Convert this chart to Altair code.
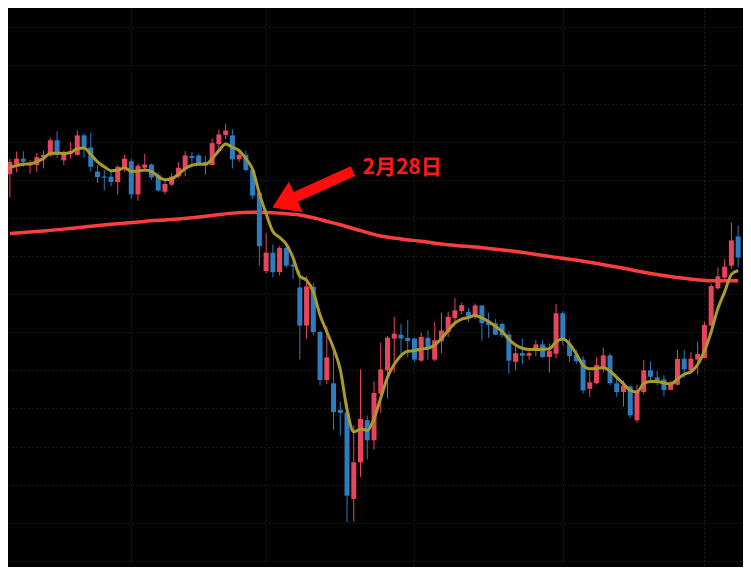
import altair as alt
import pandas as pd

# ---- candle data (price units) ----
opens = [449, 459.3, 465, 458, 458.3, 466.7, 468.3, 484, 463.3, 470,
         469, 489, 476.5, 451.7, 446.7, 446.5, 441, 455, 462.3, 428.3,
         455.7, 459, 448.3, 431, 438.3, 446.7, 455, 467.7, 468.3, 461.7,
         458.3, 480, 489.3, 489, 464.3, 469, 453.3, 430, 349.3, 368.3,
         348.3, 373.3, 356, 332.5, 293.3, 333.3, 286.7, 237.3, 234, 206.7,
         204, 115, 152.7, 196, 175.3, 223.3, 247.3, 280, 284, 280.7,
         280, 257.3, 280.7, 258.3, 277.3, 286.7, 301, 308.3, 307.3, 303.3,
         314, 297.3, 295.7, 295, 284, 256, 265, 262.3, 267.3, 274,
         261, 264.3, 306, 274, 263.3, 258.3, 228.3, 234, 250, 262.7,
         234, 225, 230.7, 196, 225, 247.3, 240, 238, 227.3, 232.5,
         259.3, 247.3, 258.3, 260, 293.3, 331.7, 342.7, 355, 385]
highs = [465, 472.3, 472.7, 463.3, 471, 473.3, 486.7, 493.3, 473.3, 482,
         494, 491, 491.7, 458.3, 453.3, 451.7, 458.3, 469, 465, 460,
         470, 460, 451, 445, 450, 461.7, 472.7, 471.7, 470, 467.7,
         485.7, 495, 501, 495, 475, 473.3, 455, 431, 388.3, 376.7,
         375, 378.3, 360, 350, 344, 336.7, 288, 292.7, 268.3, 215,
         214.5, 190.7, 248.3, 200.7, 236, 275.7, 282.7, 302.3, 295, 299.3,
         280.7, 286, 288.3, 297.3, 306.7, 307.3, 321.7, 316.7, 311.7, 316,
         314, 306.7, 300, 296.7, 287.3, 272.7, 280, 266.7, 278.3, 278.3,
         275, 315.5, 308.3, 280, 268.3, 261.7, 246, 260.7, 270.7, 265,
         238.3, 236.7, 231.7, 232.7, 258, 256.5, 246.7, 242.2, 236.7, 268.3,
         268.3, 266, 276.7, 297.3, 336, 353.3, 361.7, 399.3, 396]
lows = [425, 451, 456.7, 449.5, 451, 455, 466.7, 465.7, 458.3, 465,
        468.3, 466, 451.7, 440, 432.3, 436.7, 428.3, 451.7, 423.3, 421.7,
        451.7, 443.3, 431, 428.3, 436.7, 445, 446.7, 458.3, 458.3, 448.3,
        458.3, 475, 485, 455, 461.7, 451.7, 423.3, 355, 347, 343.3,
        345, 352.7, 341.7, 258.3, 280, 283.3, 231.7, 233.3, 186, 180,
        91, 91.7, 137.7, 155.7, 165.7, 203.3, 218.3, 245, 264, 260.7,
        256, 256, 258.3, 256.7, 265, 281.7, 297.5, 305, 296.7, 300,
        277.7, 280.7, 283.3, 280.7, 244, 247.3, 254, 258.3, 261.7, 260,
        245, 259.5, 273.3, 256, 254, 223.3, 220, 232.7, 245, 231.7,
        220, 210, 198.3, 193.3, 222.5, 236.3, 232, 220.7, 226.7, 231.7,
        239.3, 244, 242.7, 259.3, 292.7, 330, 339.3, 351.7, 353.3]
closes = [461.7, 465, 462, 460, 466.7, 469, 484, 469, 470, 473,
          489, 476.5, 456.7, 446, 445.5, 441, 456.7, 465, 428.3, 457.7,
          459, 445.7, 432.3, 439, 446.7, 455.7, 468.3, 465.7, 460, 458.3,
          481, 490, 494, 464.3, 469, 453.3, 427, 375, 368.3, 348.3,
          373.3, 355, 354, 293.3, 333.5, 286.5, 237.3, 260.7, 204.3, 203.5,
          118.3, 152.7, 197.3, 175.3, 224, 248.3, 281, 285, 280, 277.3,
          258.3, 281.7, 269.3, 278.3, 288.3, 302.3, 309, 314.3, 303.3, 314,
          295.7, 294, 284, 283.3, 257.3, 265, 262.3, 265, 274, 261,
          267.3, 306, 278.3, 262, 256.7, 226.7, 235, 252.7, 262.7, 234,
          225, 231.7, 201, 225, 247.3, 240.7, 237.3, 227, 234.5, 259,
          248.3, 259.3, 264.3, 294, 334, 344, 354, 381, 363.3]

# short moving average (gold), one value per candle
ma_short = [456, 458, 459.3, 459.7, 462, 465.3, 470.7, 470.7, 470.3, 471.2,
            475.3, 476, 469.5, 461.7, 456.7, 452.7, 453, 455.7, 452, 452.3,
            453.3, 451.7, 446.7, 443.3, 444.3, 449, 455, 458.3, 459.3, 459.3,
            465, 473.3, 480, 476.7, 473.3, 465, 454, 429, 408.5, 390,
            384, 377, 363, 344, 340, 328, 304, 287, 270, 248,
            207, 184, 187, 185.5, 197.5, 219, 240, 253.5, 262.5, 267,
            267.5, 269.3, 270, 273.3, 280, 288.3, 296, 300, 301.7, 303.7,
            301.2, 297.5, 292.5, 287.5, 279.2, 273.3, 270, 268.8, 268.8, 269,
            269.4, 276.7, 279.4, 274.4, 264.2, 252.5, 248.8, 249.3, 250, 246.7,
            240, 233.3, 226.7, 225, 233.8, 235.8, 235.8, 234.2, 233.3, 238.3,
            243.3, 245.8, 253.3, 267, 287, 311, 328, 346, 350]

# long moving average (red), sampled along the candles
ma_long_index = [0, 5, 10, 15, 20, 25, 30, 33, 36, 40, 43, 46, 49, 52, 55,
                 58, 61, 65, 70, 75, 80, 85, 90, 95, 100, 104, 108]
ma_long = [388, 390.5, 394, 397.5, 400.5, 403, 406.5, 409, 410, 409, 407,
           402.5, 397, 391, 385.5, 382.5, 380, 376.5, 373.5, 369.5, 364.5,
           359.5, 353.5, 347, 342, 339.5, 339.5]

month_start_index = [18, 38, 60, 82, 103]
price_grid = [600.1 - 39.2 * k for k in range(15)]

annotation_label = ["2月28日"]
annotation_x = [52.3]
annotation_y = [455]
arrow_x = [44.9]
arrow_y = [433.5]

n = len(opens)
df = pd.DataFrame({
    "i": list(range(n)),
    "open": opens, "high": highs, "low": lows, "close": closes,
    "ma": ma_short,
})
df["dir"] = ["up" if c >= o else "down" for o, c in zip(opens, closes)]
df_long = pd.DataFrame({"i": ma_long_index, "ma": ma_long})
df_text = pd.DataFrame({"i": annotation_x, "p": annotation_y, "t": annotation_label})
df_arrow = pd.DataFrame({"i": arrow_x, "p": arrow_y})

xscale = alt.Scale(domain=[-0.276, 108.72], nice=False, zero=False, padding=0)
yscale = alt.Scale(domain=[45, 620], nice=False, zero=False, padding=0)
xaxis = alt.Axis(values=month_start_index, grid=True, labels=False, ticks=False,
                 domain=False, title=None, gridColor="#353535", gridDash=[1, 3],
                 gridWidth=1)
yaxis = alt.Axis(values=price_grid, grid=True, labels=False, ticks=False,
                 domain=False, title=None, gridColor="#353535", gridDash=[1, 3],
                 gridWidth=1)

color = alt.Color("dir:N", scale=alt.Scale(domain=["up", "down"],
                                           range=["#e6455c", "#2e7cc0"]),
                  legend=None)

base = alt.Chart(df)

long_line = alt.Chart(df_long).mark_line(
    color="#ff3d3d", strokeWidth=3.5, interpolate="monotone", clip=True
).encode(
    x=alt.X("i:Q", scale=xscale, axis=xaxis),
    y=alt.Y("ma:Q", scale=yscale, axis=yaxis),
)

wicks = base.mark_rule(strokeWidth=1, clip=True).encode(
    x=alt.X("i:Q", scale=xscale, axis=xaxis),
    y=alt.Y("low:Q", scale=yscale, axis=yaxis),
    y2="high:Q",
    color=color,
)

bodies = base.mark_bar(size=5, clip=True).encode(
    x=alt.X("i:Q", scale=xscale, axis=xaxis),
    y=alt.Y("open:Q", scale=yscale, axis=yaxis),
    y2="close:Q",
    color=color,
)

short_line = base.mark_line(
    color="#a89a2b", strokeWidth=3, interpolate="monotone", clip=True
).encode(
    x=alt.X("i:Q", scale=xscale, axis=xaxis),
    y=alt.Y("ma:Q", scale=yscale, axis=yaxis),
)

arrow_path = ("M -1 -0.12 L 0.42 -0.12 L 0.42 -0.38 L 1 0 L 0.42 0.38 "
              "L 0.42 0.12 L -1 0.12 Z")
arrow = alt.Chart(df_arrow).mark_point(
    shape=arrow_path, size=7800, angle=155.7, filled=True,
    fill="#ff0d0d", color="#ff0d0d", strokeWidth=0, opacity=1
).encode(
    x=alt.X("i:Q", scale=xscale, axis=xaxis),
    y=alt.Y("p:Q", scale=yscale, axis=yaxis),
)

label = alt.Chart(df_text).mark_text(
    align="left", baseline="middle", fontSize=21, fontWeight="bold",
    font="Noto Sans CJK JP", color="#ff1a1a"
).encode(
    x=alt.X("i:Q", scale=xscale, axis=xaxis),
    y=alt.Y("p:Q", scale=yscale, axis=yaxis),
    text="t:N",
)

chart = alt.layer(long_line, wicks, bodies, short_line, arrow, label).properties(
    width=735, height=559, background="#000000", padding=0,
    autosize=alt.AutoSizeParams(type="none"),
).configure_view(stroke=None, fill="#000000")

chart.save("out.html", embed_options={"renderer": "svg", "actions": False})
